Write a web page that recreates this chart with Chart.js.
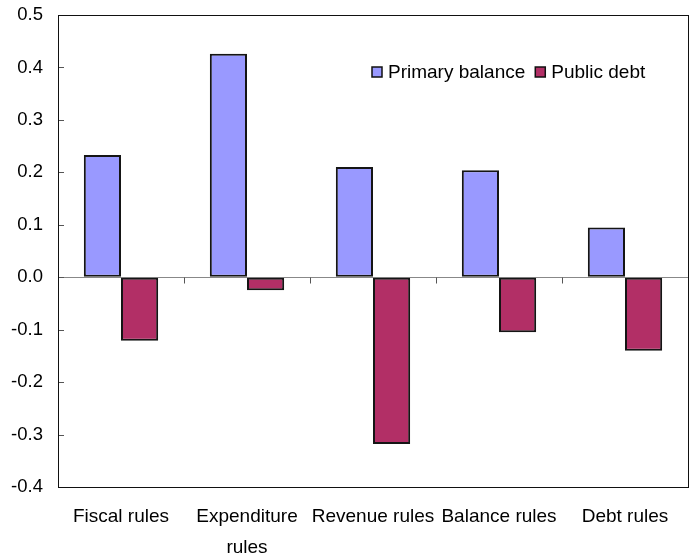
<!DOCTYPE html>
<html>
<head>
<meta charset="utf-8">
<script src="https://cdn.jsdelivr.net/npm/chart.js@4/dist/chart.umd.min.js"></script>
<style>
  html, body { margin: 0; padding: 0; background: #fff; }
  #wrap { width: 692px; height: 556px; position: relative; }
</style>
</head>
<body>
<div id="wrap"><canvas id="rulesChart"></canvas></div>
<script>
const categories = ['Fiscal rules', ['Expenditure', 'rules'], 'Revenue rules', 'Balance rules', 'Debt rules'];
const primaryBalance = [0.233, 0.426, 0.210, 0.204, 0.095];
const publicDebt = [-0.121, -0.025, -0.318, -0.105, -0.140];
const yTicks = [-0.4, -0.3, -0.2, -0.1, 0.0, 0.1, 0.2, 0.3, 0.4, 0.5];

const FONT = "'Liberation Sans', Arial, sans-serif";

// frame, inner tick marks and the legend box inside the plot
const framePlugin = {
  id: 'frame',
  beforeDatasetsDraw(chart) {
    const { ctx, chartArea: a, scales: { x, y } } = chart;
    ctx.save();
    ctx.strokeStyle = '#555';
    ctx.lineWidth = 1;
    ctx.beginPath();
    yTicks.forEach(v => {
      const py = Math.round(y.getPixelForValue(v)) + 0.5;
      ctx.moveTo(a.left, py);
      ctx.lineTo(a.left + 6, py);
    });
    const zero = Math.round(y.getPixelForValue(0)) + 0.5;
    for (let i = 0; i < categories.length - 1; i++) {
      const px = Math.round((x.getPixelForTick(i) + x.getPixelForTick(i + 1)) / 2) + 0.5;
      ctx.moveTo(px, zero);
      ctx.lineTo(px, zero + 6);
    }
    ctx.stroke();
    ctx.restore();
  },
  afterDatasetsDraw(chart) {
    const { ctx, chartArea: a } = chart;
    ctx.save();
    ctx.strokeStyle = '#111';
    ctx.lineWidth = 1;
    ctx.strokeRect(Math.round(a.left) + 0.5, Math.round(a.top) + 0.5,
      Math.round(a.right - a.left), Math.round(a.bottom - a.top));

    // legend
    let lx = 372;
    const ly = 72;
    ctx.font = '19px ' + FONT;
    ctx.textBaseline = 'middle';
    chart.data.datasets.forEach(ds => {
      ctx.fillStyle = ds.backgroundColor;
      ctx.fillRect(lx, ly - 5, 10, 10);
      ctx.strokeStyle = '#111';
      ctx.lineWidth = 1.5;
      ctx.strokeRect(lx, ly - 5, 10, 10);
      ctx.fillStyle = '#000';
      ctx.fillText(ds.label, lx + 16, ly + 1);
      lx += 16 + ctx.measureText(ds.label).width + 10;
    });
    ctx.restore();
  }
};

new Chart(document.getElementById('rulesChart'), {
  type: 'bar',
  data: {
    labels: categories,
    datasets: [
      {
        label: 'Primary balance',
        data: primaryBalance,
        backgroundColor: '#9999FF',
        borderColor: '#151515',
        borderWidth: 2,
        borderSkipped: false
      },
      {
        label: 'Public debt',
        data: publicDebt,
        backgroundColor: '#B22F66',
        borderColor: '#151515',
        borderWidth: 2,
        borderSkipped: false
      }
    ]
  },
  options: {
    responsive: true,
    maintainAspectRatio: false,
    animation: false,
    devicePixelRatio: 1,
    layout: { padding: { top: 15, right: 4, left: 0, bottom: 0 } },
    plugins: {
      legend: { display: false },
      tooltip: { enabled: false }
    },
    datasets: {
      bar: { barPercentage: 1, categoryPercentage: 0.59 }
    },
    scales: {
      x: {
        grid: { display: false, drawTicks: false },
        border: { display: false },
        ticks: {
          color: '#000',
          padding: 15,
          maxRotation: 0,
          autoSkip: false,
          font: { family: FONT, size: 19, lineHeight: 1.6 }
        },
        afterFit(scale) { scale.height = 69; }
      },
      y: {
        min: -0.4,
        max: 0.5,
        afterBuildTicks(scale) { scale.ticks = yTicks.map(v => ({ value: v })); },
        grid: {
          drawTicks: false,
          color: ctx => (ctx.tick && Math.abs(ctx.tick.value) < 1e-9 ? '#888' : 'rgba(0,0,0,0)'),
          lineWidth: 1
        },
        border: { display: false },
        ticks: {
          color: '#000',
          padding: 15,
          font: { family: FONT, size: 18.5, lineHeight: 0.2 },
          callback: v => v.toFixed(1)
        },
        afterFit(scale) {
          scale.width = 58;
          scale.paddingTop = 0;
          scale.paddingBottom = 0;
        }
      }
    }
  },
  plugins: [framePlugin]
});
</script>
</body>
</html>
